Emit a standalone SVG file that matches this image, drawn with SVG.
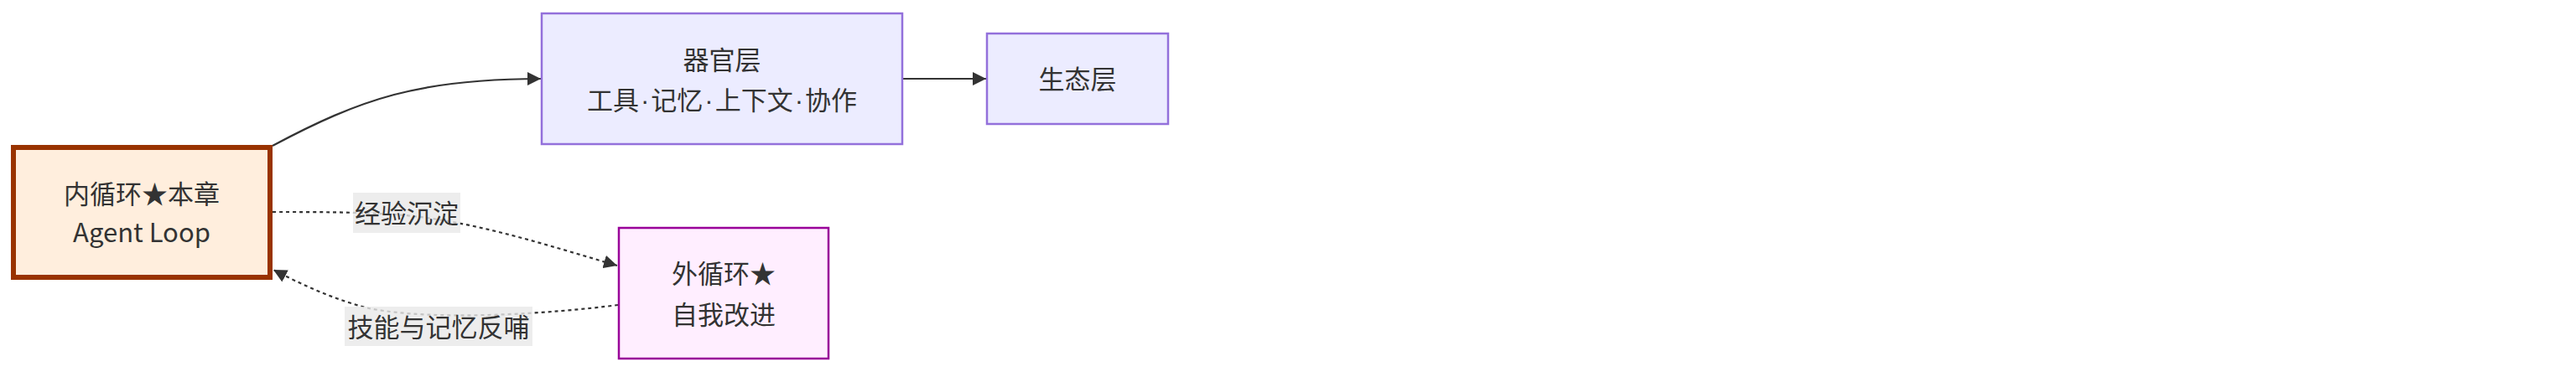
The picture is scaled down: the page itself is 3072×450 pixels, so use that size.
<svg xmlns="http://www.w3.org/2000/svg" width="3072" height="450" viewBox="0 0 3072 450">
<defs>
<style>
.t{font-family:"Noto Sans CJK SC","Liberation Sans",sans-serif;font-size:31px;fill:#333;text-anchor:middle}
.d{font-family:"Liberation Sans",sans-serif}
.blue{fill:#ECECFF;stroke:#9370DB;stroke-width:2.5}
.edge{fill:none;stroke:#333;stroke-width:2.2}
.dot{stroke-dasharray:4 4}
.lbl{fill:#e8e8e8;fill-opacity:0.8}
</style>
<marker id="ah" viewBox="0 0 10 10" refX="10" refY="5" markerUnits="userSpaceOnUse" markerWidth="16" markerHeight="16" orient="auto">
<path d="M0,0 L10,5 L0,10 z" fill="#333"/>
</marker>
</defs>
<rect width="3072" height="450" fill="#fff"/>
<g id="connectors">
<path class="edge" d="M325,174 C430,118 500,94 645,94" marker-end="url(#ah)"/>
<path class="edge" d="M1077,94 L1176,94" marker-end="url(#ah)"/>
<path class="edge dot" d="M325,253 C380,253 420,253 470,256 C560,262 650,292 736,317" marker-end="url(#ah)"/>
<path class="edge dot" d="M737,364 C660,374 520,384 440,368 C400,358 360,340 326,322" marker-end="url(#ah)"/>
</g>
<g id="edge-labels">
<g id="label-exp">
<rect class="lbl" x="421" y="230" width="128" height="48"/>
<text class="t" x="485" y="266">经验沉淀</text>
</g>
<g id="label-feedback">
<rect class="lbl" x="411" y="366" width="224" height="47"/>
<text class="t" x="523" y="402">技能与记忆反哺</text>
</g>
</g>
<g id="inner">
<rect x="16" y="176" width="306" height="155" fill="#FFEEDD" stroke="#993300" stroke-width="6"/>
<text class="t" x="169" y="243">内循环★本章</text>
<text class="t" x="169" y="289">Agent Loop</text>
</g>
<g id="organ">
<rect class="blue" x="646" y="16" width="430" height="156"/>
<text class="t" x="861" y="83">器官层</text>
<text class="t" x="861" y="131">工具<tspan class="d" dx="2">·</tspan><tspan dx="2">记忆</tspan><tspan class="d" dx="2">·</tspan><tspan dx="2">上下文</tspan><tspan class="d" dx="2">·</tspan><tspan dx="2">协作</tspan></text>
</g>
<g id="eco">
<rect class="blue" x="1177" y="40" width="216" height="108"/>
<text class="t" x="1285" y="106">生态层</text>
</g>
<g id="outer">
<rect x="738" y="272" width="250" height="156" fill="#FFEEFF" stroke="#990099" stroke-width="2.5"/>
<text class="t" x="863" y="338">外循环★</text>
<text class="t" x="863" y="387">自我改进</text>
</g>
</svg>
